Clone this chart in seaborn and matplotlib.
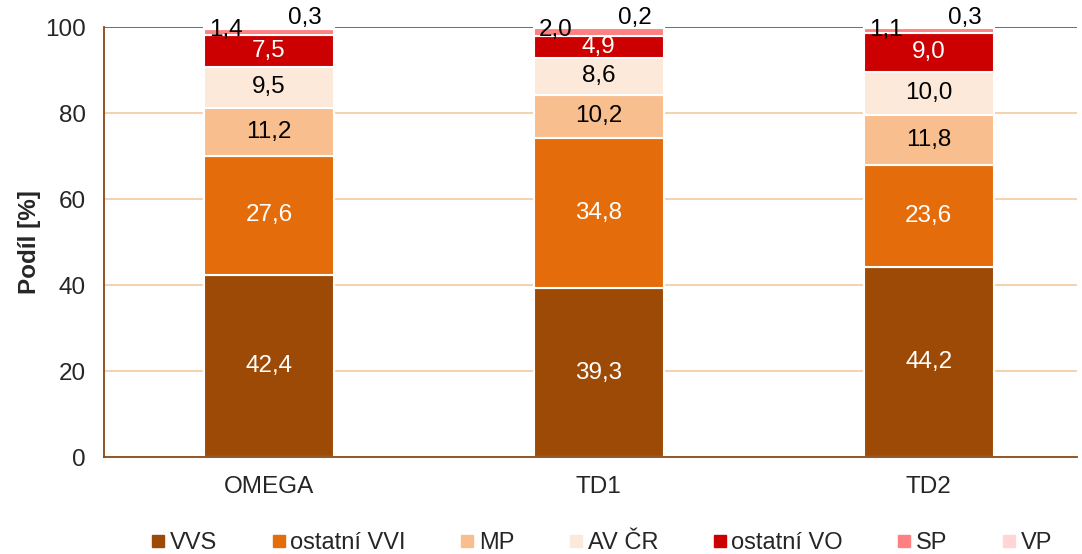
import numpy as np
import pandas as pd
import seaborn as sns
from matplotlib import pyplot as plt
from matplotlib.lines import Line2D

skupiny = ["OMEGA", "TD1", "TD2"]
segmenty = ["VVS", "ostatní VVI", "MP", "AV ČR", "ostatní VO", "SP", "VP"]
vvs = [42.4, 39.3, 44.2]
ostatni_vvi = [27.6, 34.8, 23.6]
mp = [11.2, 10.2, 11.8]
av_cr = [9.5, 8.6, 10.0]
ostatni_vo = [7.5, 4.9, 9.0]
sp = [1.4, 2.0, 1.1]
vp = [0.3, 0.2, 0.3]

barvy = ["#9C4A06", "#E46C0A", "#F9BE8E", "#FDE9D9", "#CC0000", "#FF8080", "#FFD5D5"]
barvy_textu = ["white", "white", "black", "black", "white", None, None]

sns.set_style("white")
plt.rcParams["font.family"] = ["Liberation Sans", "DejaVu Sans"]

df = pd.DataFrame({"skupina": skupiny, "VVS": vvs, "ostatní VVI": ostatni_vvi, "MP": mp,
                   "AV ČR": av_cr, "ostatní VO": ostatni_vo, "SP": sp, "VP": vp})

fig = plt.figure(figsize=(10.82, 5.54), dpi=100)
ax = fig.add_axes([104 / 1082, 1 - 457 / 554, (1077 - 104) / 1082, 430 / 554])

hneda = "#8B4513"
fs = 17.5
for y in [20, 40, 60, 80]:
    ax.axhline(y, color="#F5C9A0", lw=1.2, zorder=0)
ax.axhline(100, color=hneda, lw=1.2, zorder=0)

sirka = 130 / 330
dno = np.zeros(len(skupiny))
for seg, barva, tb in zip(segmenty, barvy, barvy_textu):
    hodnoty = df[seg].to_numpy()
    sns.barplot(data=df, x="skupina", y=seg, bottom=dno.copy(), color=barva, width=sirka,
                edgecolor="white", linewidth=1.5, saturation=1, ax=ax, zorder=2)
    for i, v in enumerate(hodnoty):
        txt = f"{v:.1f}".replace(".", ",")
        if tb is not None:
            ax.text(i, dno[i] + v / 2, txt, ha="center", va="center", color=tb, fontsize=fs)
        elif seg == "SP":
            ax.text(i - 0.13, 99.4, txt, ha="center", va="center", color="black", fontsize=fs,
                    clip_on=False)
        else:
            ax.text(i + 0.11, 102.0, txt, ha="center", va="center", color="black", fontsize=fs,
                    clip_on=False)
    dno += hodnoty

ax.set_xlim(-0.5, 2.45)
ax.set_ylim(0, 100)
ax.set_yticks([0, 20, 40, 60, 80, 100])
ax.set_xticks([0, 1, 2])
ax.set_xticklabels(skupiny)
ax.set_xticks([0.5, 1.5], minor=True)
ax.tick_params(axis="x", which="major", length=0, labelsize=fs, pad=14)
ax.tick_params(axis="x", which="minor", length=7, color=hneda, direction="out")
ax.tick_params(axis="y", length=7, color=hneda, direction="out", labelsize=fs, pad=6)
for s in ["top", "right"]:
    ax.spines[s].set_visible(False)
for s in ["left", "bottom"]:
    ax.spines[s].set_color(hneda)
    ax.spines[s].set_linewidth(1.3)
ax.set_xlabel("")
ax.set_ylabel("Podíl [%]", fontsize=fs, fontweight="bold", labelpad=3)

handles = [Line2D([], [], marker="s", linestyle="", markersize=8, color=b) for b in barvy]
fig.legend(handles, segmenty, loc="center", bbox_to_anchor=(0.556, 0.02), ncol=7, frameon=False,
           fontsize=17, handlelength=0.6, handletextpad=0.2, columnspacing=2.3, borderaxespad=0)

fig.savefig("out.png", dpi=100)
